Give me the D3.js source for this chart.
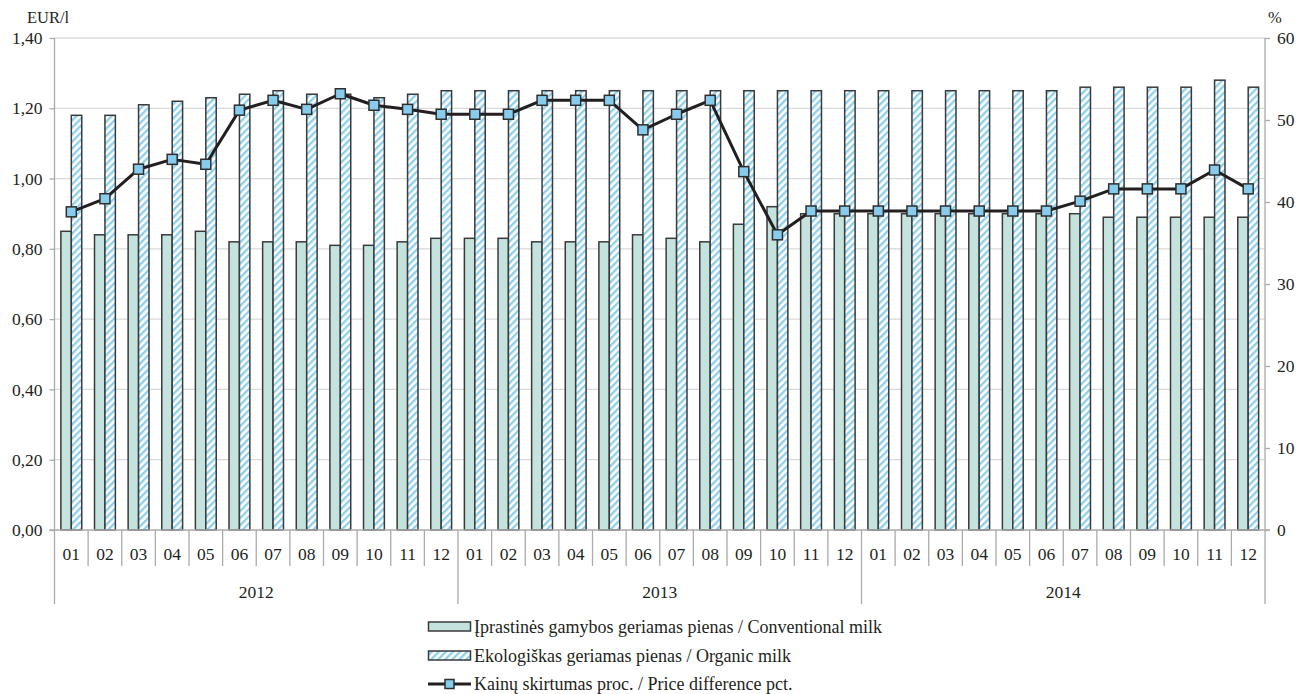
<!DOCTYPE html>
<html>
<head>
<meta charset="utf-8">
<script src="https://cdn.jsdelivr.net/npm/d3@7"></script>
<style>
  html, body { margin: 0; padding: 0; background: #ffffff; }
  svg { display: block; }
  text { font-family: "Liberation Serif", "Times New Roman", serif; fill: #231f20; }
</style>
</head>
<body>
<svg id="chart" width="1298" height="694"></svg>
<script>
const months = ["01","02","03","04","05","06","07","08","09","10","11","12",
                "01","02","03","04","05","06","07","08","09","10","11","12",
                "01","02","03","04","05","06","07","08","09","10","11","12"];
const years = ["2012","2013","2014"];
const conventional = [0.85,0.84,0.84,0.84,0.85,0.82,0.82,0.82,0.81,0.81,0.82,0.83,
                      0.83,0.83,0.82,0.82,0.82,0.84,0.83,0.82,0.87,0.92,0.90,0.90,
                      0.90,0.90,0.90,0.90,0.90,0.90,0.90,0.89,0.89,0.89,0.89,0.89];
const organic = [1.18,1.18,1.21,1.22,1.23,1.24,1.25,1.24,1.24,1.23,1.24,1.25,
                 1.25,1.25,1.25,1.25,1.25,1.25,1.25,1.25,1.25,1.25,1.25,1.25,
                 1.25,1.25,1.25,1.25,1.25,1.25,1.26,1.26,1.26,1.26,1.28,1.26];
const priceDiff = [38.8,40.4,44.0,45.2,44.6,51.2,52.4,51.3,53.2,51.8,51.3,50.7,
                   50.7,50.7,52.4,52.4,52.4,48.8,50.7,52.4,43.7,36.0,38.9,38.9,
                   38.9,38.9,38.9,38.9,38.9,38.9,40.1,41.6,41.6,41.6,43.9,41.6];
const leftTicks = [0,0.2,0.4,0.6,0.8,1.0,1.2,1.4];
const rightTicks = [0,10,20,30,40,50,60];
const legendLabels = ["Įprastinės gamybos geriamas pienas / Conventional milk",
                      "Ekologiškas geriamas pienas / Organic milk",
                      "Kainų skirtumas proc. / Price difference pct."];

const svg = d3.select("#chart");
const L = 54.5, R = 1265, T = 38, B = 530;
const axisColor = "#ababab", gridColor = "#d9d9d9";
const convFill = "#c4e3de", stroke = "#3a3a3a", blue = "#8ccfee", markerFill = "#87ccec";

const defs = svg.append("defs");
const pat = defs.append("pattern").attr("id","hatch").attr("patternUnits","userSpaceOnUse")
  .attr("width",5).attr("height",5).attr("patternTransform","rotate(45)");
pat.append("rect").attr("width",5).attr("height",5).attr("fill","#ffffff");
pat.append("rect").attr("x",0).attr("y",0).attr("width",2.3).attr("height",5).attr("fill",blue);

const idx = d3.range(months.length);
const x = d3.scaleBand().domain(idx).range([L, R]).paddingInner(0).paddingOuter(0);
const bw = x.bandwidth();
const x1 = d3.scaleBand().domain(["conv","org"]).range([bw*0.19, bw*0.81]).padding(0);
const y = d3.scaleLinear().domain([0,1.4]).range([B, T]);
const y2 = d3.scaleLinear().domain([0,60]).range([B, T]);
const fmt = v => d3.format(".2f")(v).replace(".", ",");

// gridlines
svg.append("g").selectAll("line").data(leftTicks.filter(d => d > 0)).join("line")
  .attr("x1", L).attr("x2", R).attr("y1", d => y(d)).attr("y2", d => y(d))
  .attr("stroke", gridColor).attr("stroke-width", 1.3);

// left axis
const gl = svg.append("g").attr("transform", `translate(${L},0)`)
  .call(d3.axisLeft(y).tickValues(leftTicks).tickFormat(fmt).tickSize(5).tickPadding(7));
gl.select(".domain").remove();
gl.selectAll(".tick line").attr("stroke", axisColor).attr("stroke-width", 1.3);
gl.selectAll(".tick text").attr("font-size", "17.5px").attr("font-family", "Liberation Serif").attr("fill", "#231f20");

// right axis
const gr = svg.append("g").attr("transform", `translate(${R},0)`)
  .call(d3.axisRight(y2).tickValues(rightTicks).tickSize(5).tickPadding(7));
gr.select(".domain").remove();
gr.selectAll(".tick line").attr("stroke", axisColor).attr("stroke-width", 1.3);
gr.selectAll(".tick text").attr("font-size", "17.5px").attr("font-family", "Liberation Serif").attr("fill", "#231f20");

// units
svg.append("text").attr("x", 27).attr("y", 23).attr("font-size", "16.5px").text("EUR/l");
svg.append("text").attr("x", 1268).attr("y", 23).attr("font-size", "16.5px").text("%");

// bars
const bars = svg.append("g");
bars.selectAll("rect.conv").data(idx).join("rect").attr("class","conv")
  .attr("x", i => x(i) + x1("conv")).attr("width", x1.bandwidth())
  .attr("y", i => y(conventional[i])).attr("height", i => B - y(conventional[i]))
  .attr("fill", convFill).attr("stroke", stroke).attr("stroke-width", 1.5);
bars.selectAll("rect.org").data(idx).join("rect").attr("class","org")
  .attr("x", i => x(i) + x1("org")).attr("width", x1.bandwidth())
  .attr("y", i => y(organic[i])).attr("height", i => B - y(organic[i]))
  .attr("fill", "url(#hatch)").attr("stroke", stroke).attr("stroke-width", 1.5);

// axes lines
svg.append("line").attr("x1", L - 5).attr("x2", R + 5).attr("y1", B).attr("y2", B)
  .attr("stroke", axisColor).attr("stroke-width", 1.3);
svg.append("line").attr("x1", L).attr("x2", L).attr("y1", T).attr("y2", 604)
  .attr("stroke", axisColor).attr("stroke-width", 1.3);
svg.append("line").attr("x1", R).attr("x2", R).attr("y1", T).attr("y2", 604)
  .attr("stroke", axisColor).attr("stroke-width", 1.3);

// category separators
const seps = d3.range(1, months.length);
svg.append("g").selectAll("line").data(seps).join("line")
  .attr("x1", i => x(i)).attr("x2", i => x(i))
  .attr("y1", B).attr("y2", i => (i % 12 === 0) ? 604 : 566)
  .attr("stroke", axisColor).attr("stroke-width", 1.3);

// month labels
svg.append("g").selectAll("text").data(idx).join("text")
  .attr("x", i => x(i) + bw/2).attr("y", 560).attr("text-anchor","middle")
  .attr("font-size", "17.5px").text(i => months[i]);

// year labels
svg.append("g").selectAll("text").data(years).join("text")
  .attr("x", (d, k) => (x(k*12) + x(k*12+11) + bw) / 2).attr("y", 598)
  .attr("text-anchor","middle").attr("font-size", "17.5px").text(d => d);

// line
const line = d3.line().x(i => x(i) + bw/2).y(i => y2(priceDiff[i]));
svg.append("path").datum(idx).attr("d", line).attr("fill","none")
  .attr("stroke", "#231f20").attr("stroke-width", 3).attr("stroke-linejoin","round");
const ms = 10;
svg.append("g").selectAll("rect").data(idx).join("rect")
  .attr("x", i => x(i) + bw/2 - ms/2).attr("y", i => y2(priceDiff[i]) - ms/2)
  .attr("width", ms).attr("height", ms)
  .attr("fill", markerFill).attr("stroke", "#2e2e2e").attr("stroke-width", 1.5);

// legend
const lg = svg.append("g");
const rowsY = [626.5, 655.5, 684];
lg.append("rect").attr("x", 428.5).attr("y", rowsY[0]-4.5).attr("width", 42).attr("height", 9)
  .attr("fill", convFill).attr("stroke", stroke).attr("stroke-width", 1.5);
lg.append("rect").attr("x", 428.5).attr("y", rowsY[1]-4.5).attr("width", 42).attr("height", 9)
  .attr("fill", "url(#hatch)").attr("stroke", stroke).attr("stroke-width", 1.5);
lg.append("line").attr("x1", 428).attr("x2", 471).attr("y1", rowsY[2]).attr("y2", rowsY[2])
  .attr("stroke", "#231f20").attr("stroke-width", 3);
lg.append("rect").attr("x", 445).attr("y", rowsY[2]-4.5).attr("width", 9).attr("height", 9)
  .attr("fill", markerFill).attr("stroke", "#2e2e2e").attr("stroke-width", 1.5);
lg.selectAll("text").data(legendLabels).join("text")
  .attr("x", 474).attr("y", (d, k) => rowsY[k] + 6).attr("font-size", "18px").text(d => d);
</script>
</body>
</html>
